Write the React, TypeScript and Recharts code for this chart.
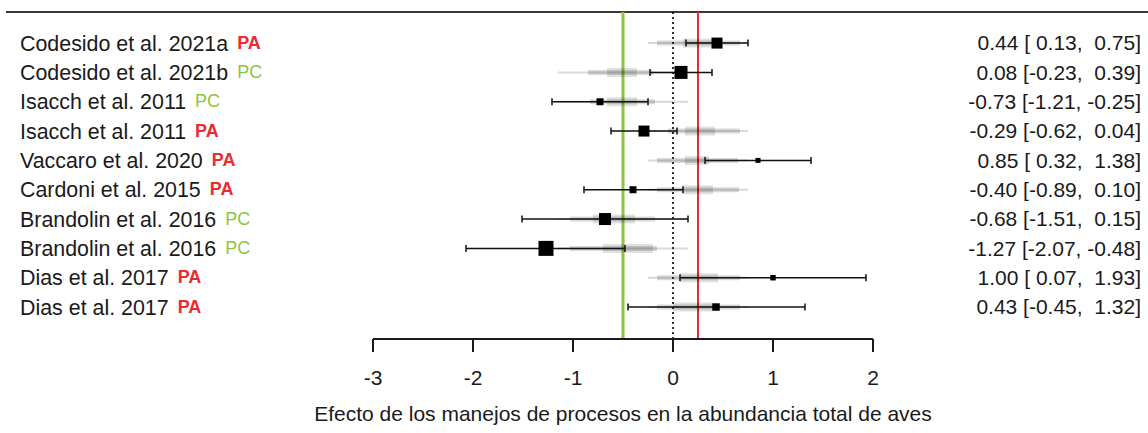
import { ErrorBar, ReferenceLine, Scatter, ScatterChart, XAxis, YAxis } from "recharts";

// Estudios (de arriba hacia abajo) y tipo de manejo
const studies = [
  "Codesido et al. 2021a",
  "Codesido et al. 2021b",
  "Isacch et al. 2011",
  "Isacch et al. 2011",
  "Vaccaro et al. 2020",
  "Cardoni et al. 2015",
  "Brandolin et al. 2016",
  "Brandolin et al. 2016",
  "Dias et al. 2017",
  "Dias et al. 2017",
];
const manejo = ["PA", "PC", "PC", "PA", "PA", "PA", "PC", "PC", "PA", "PA"];

// Tamaño del efecto e IC 95%
const estimates = [0.44, 0.08, -0.73, -0.29, 0.85, -0.4, -0.68, -1.27, 1.0, 0.43];
const ciLower = [0.13, -0.23, -1.21, -0.62, 0.32, -0.89, -1.51, -2.07, 0.07, -0.45];
const ciUpper = [0.75, 0.39, -0.25, 0.04, 1.38, 0.1, 0.15, -0.48, 1.93, 1.32];
// peso relativo de cada estudio (lado del cuadrado)
const weights = [11, 13, 7, 11, 5, 7, 12, 15, 5.5, 7.5];

// sombras grises (estimaciones por subgrupo), tres niveles
const outerLo = [-0.25, -1.15, -1.15, -0.25, -0.25, -0.25, -1.15, -1.15, -0.25, -0.25];
const outerHi = [0.75, 0.15, 0.15, 0.75, 0.75, 0.75, 0.15, 0.15, 0.75, 0.75];
const midLo = [-0.16, -0.85, -0.83, -0.05, -0.16, -0.16, -1.03, -1.03, -0.16, -0.16];
const midHi = [0.67, -0.2, -0.18, 0.67, 0.65, 0.66, -0.18, -0.16, 0.67, 0.67];
const innerLo = [0.1, -0.66, -0.66, 0.12, 0.12, 0.1, -0.8, -0.7, 0.07, 0.0];
const innerHi = [0.42, -0.36, -0.36, 0.42, 0.36, 0.4, -0.38, -0.2, 0.45, 0.4];

// estimaciones resumen por manejo
const pcSummary = -0.5;
const paSummary = 0.25;

const xTicks = [-3, -2, -1, 0, 1, 2];
const axisTitle = "Efecto de los manejos de procesos en la abundancia total de aves";

const FONT = "'Liberation Sans', Arial, sans-serif";
const RED = "#ec2a30";
const GREEN = "#8cc63f";

const pad = (v: number) => (v < 0 ? v.toFixed(2) : " " + v.toFixed(2));

const rows = studies.map((name, i) => {
  const est = estimates[i];
  const off = (lo: number, hi: number) => [est - lo, hi - est];
  return {
    row: i + 1,
    name,
    tag: manejo[i],
    est,
    weight: weights[i],
    label: `${estimates[i].toFixed(2)} [${pad(ciLower[i])}, ${pad(ciUpper[i])}]`,
    ci: off(ciLower[i], ciUpper[i]),
    outer: off(outerLo[i], outerHi[i]),
    mid: off(midLo[i], midHi[i]),
    inner: off(innerLo[i], innerHi[i]),
  };
});

function Square(props: any) {
  const { cx, cy, payload } = props;
  const s = payload.weight;
  return <rect x={cx - s / 2} y={cy - s / 2} width={s} height={s} fill="#000" />;
}

function StudyTick(props: any) {
  const { y, payload } = props;
  const r = rows[payload.value - 1];
  if (!r) return null;
  const isPA = r.tag === "PA";
  return (
    <g>
      <text x={20} y={y} dy="0.35em" fontSize={21.4} fill="#1a1a1a" fontFamily={FONT}>
        {r.name}
        <tspan
          dx={9}
          dy={-2}
          fontSize={18}
          fontWeight={isPA ? "bold" : "normal"}
          fill={isPA ? RED : GREEN}
        >
          {r.tag}
        </tspan>
      </text>
      <text
        x={1141}
        y={y}
        dy="0.35em"
        textAnchor="end"
        fontSize={21}
        fill="#1a1a1a"
        fontFamily={FONT}
        style={{ whiteSpace: "pre" }}
      >
        {r.label}
      </text>
    </g>
  );
}

function XTick(props: any) {
  const { x, y, payload } = props;
  return (
    <text x={x} y={y} dy="0.71em" textAnchor="middle" fontSize={21} fill="#1a1a1a" fontFamily={FONT}>
      {payload.value}
    </text>
  );
}

export default function App() {
  return (
    <div style={{ position: "absolute", left: 0, top: 0, width: 1148, height: 433, background: "#fff" }}>
      <div style={{ position: "absolute", left: 6, right: 0, top: 11, height: 2, background: "#3a3a3a" }} />
      <ScatterChart width={1148} height={433} margin={{ top: 12, right: 275, bottom: 0, left: 0 }}>
        <XAxis
          type="number"
          dataKey="est"
          domain={[-3, 2]}
          ticks={xTicks}
          allowDataOverflow
          height={94}
          stroke="#1a1a1a"
          strokeWidth={2}
          tickSize={13}
          tickMargin={18}
          tick={<XTick />}
          label={{
            value: axisTitle,
            position: "insideBottom",
            offset: 12,
            fontSize: 21,
            fill: "#1a1a1a",
            fontFamily: FONT,
          }}
        />
        <YAxis
          type="number"
          dataKey="row"
          domain={[-0.06, 11.09]}
          ticks={rows.map((r) => r.row)}
          reversed
          allowDataOverflow
          width={373}
          axisLine={false}
          tickLine={false}
          tick={<StudyTick />}
          interval={0}
        />
        <ReferenceLine x={0} stroke="#000" strokeWidth={1.6} strokeDasharray="2 3" />
        <ReferenceLine x={pcSummary} stroke={GREEN} strokeWidth={3} />
        <ReferenceLine x={paSummary} stroke={RED} strokeWidth={2} />
        <Scatter data={rows} dataKey="est" shape={<Square />} isAnimationActive={false}>
          <ErrorBar dataKey="outer" direction="x" width={0} stroke="rgba(0,0,0,0.15)" strokeWidth={2} />
          <ErrorBar dataKey="mid" direction="x" width={0} stroke="rgba(0,0,0,0.15)" strokeWidth={5} />
          <ErrorBar dataKey="inner" direction="x" width={0} stroke="rgba(0,0,0,0.12)" strokeWidth={9} />
          <ErrorBar dataKey="ci" direction="x" width={3.5} stroke="#111" strokeWidth={1.5} />
        </Scatter>
      </ScatterChart>
    </div>
  );
}
